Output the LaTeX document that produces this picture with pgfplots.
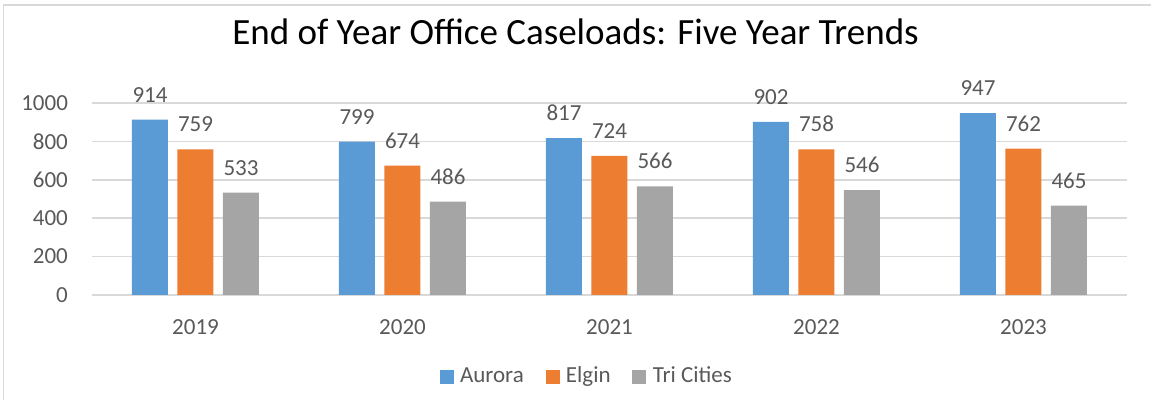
\documentclass[border=0pt]{standalone}
\usepackage{fontspec}
\setmainfont{Carlito}
\usepackage{pgfplots}
\pgfplotsset{compat=1.18}
\definecolor{cA}{HTML}{5B9BD5}
\definecolor{cE}{HTML}{ED7D31}
\definecolor{cT}{HTML}{A5A5A5}
\definecolor{txt}{HTML}{595959}
\definecolor{gridc}{HTML}{D9D9D9}
\begin{document}
\begin{tikzpicture}
\begin{axis}[
  at={(0pt,0pt)}, anchor=south west,
  scale only axis, width=517.5pt, height=96pt,
  xmin=-0.5, xmax=4.5, ymin=0, ymax=1000,
  ytick={0,200,400,600,800,1000},
  xtick={0,1,2,3,4}, xticklabels={2019,2020,2021,2022,2023},
  axis line style={draw=none},
  major tick length=0pt,
  ymajorgrids, grid style={gridc, line width=0.75pt},
  tick label style={font=\fontsize{11.5}{13}\selectfont, text=txt},
  /pgf/number format/assume math mode=true,
  /pgf/number format/set thousands separator={},
  yticklabel style={anchor=east, inner sep=0pt, xshift=-11.85pt},
  xticklabel style={anchor=base, inner sep=0pt, yshift=-19.65pt},
  ybar=4.75pt, bar width=18pt,
  nodes near coords,
  every node near coord/.append style={font=\fontsize{11.5}{13}\selectfont, text=txt, anchor=base, inner sep=0pt, yshift=8.75pt},
  legend columns=3,
  legend style={draw=none, fill=none, at={(0.4771,-0.4245)}, anchor=center,
    inner sep=0pt, nodes={inner sep=0pt},
    font=\fontsize{11.5}{13}\selectfont, text=txt,
    /tikz/every odd column/.append style={column sep=3.2pt},
    /tikz/every even column/.append style={column sep=10.9pt}},
  legend image code/.code={\fill[#1] (0pt,-3.5pt) rectangle (7pt,3.5pt);},
]
\addplot[fill=cA, draw=none] coordinates {(0,914) (1,799) (2,817) (3,902) (4,947)};
\addplot[fill=cE, draw=none] coordinates {(0,759) (1,674) (2,724) (3,758) (4,762)};
\addplot[fill=cT, draw=none] coordinates {(0,533) (1,486) (2,566) (3,546) (4,465)};
\legend{Aurora, Elgin, Tri Cities}
\end{axis}
\node[anchor=base, font=\fontsize{18.5}{22}\selectfont, text=black] at (241.75pt,125pt) {End of Year Office Caseloads: Five Year Trends};
\pgfresetboundingbox
\useasboundingbox (-46pt,-52.5pt) rectangle (529.5pt,147.5pt);
\draw[gridc, line width=0.9pt] (-44.25pt,-54pt) -- (-44.25pt,145pt) -- (531pt,145pt);
\end{tikzpicture}
\end{document}
